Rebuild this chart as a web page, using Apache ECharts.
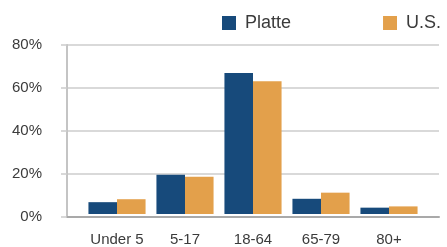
<!DOCTYPE html>
<html>
<head>
<meta charset="utf-8">
<script src="https://cdn.jsdelivr.net/npm/echarts@6/dist/echarts.min.js"></script>
<style>
  html, body { margin: 0; padding: 0; background: #fff; }
  #chart { width: 447px; height: 247px; }
</style>
</head>
<body>
<div id="chart"></div>
<script>
// age groups and share of population (%)
const ageGroups = ['Under 5', '5-17', '18-64', '65-79', '80+'];
const platte = [5.6, 18.6, 66.8, 7.2, 3.0];
const us = [7.0, 17.6, 62.8, 10.1, 3.6];
const yTicks = [0, 20, 40, 60, 80];

const FONT = '"Liberation Sans", Arial, sans-serif';
const textColor = '#3b3b3b';

const chart = echarts.init(document.getElementById('chart'));

chart.setOption({
  animation: false,
  textStyle: { fontFamily: FONT },
  legend: {
    data: ['Platte', 'U.S.'],
    left: 222,
    top: 14,
    padding: 0,
    width: 240,
    orient: 'horizontal',
    icon: 'rect',
    itemWidth: 14,
    itemHeight: 14,
    itemGap: 92,
    textStyle: { fontFamily: FONT, fontSize: 18, color: textColor, padding: [0, 0, 0, 4] }
  },
  grid: [
    // background grid: gridlines + y labels
    { left: 67, right: 8, top: 45, bottom: 30 },
    // bars sit in a slightly narrower area
    { left: 83, right: 24, top: 45, bottom: 30 }
  ],
  xAxis: [
    {
      gridIndex: 0,
      type: 'category',
      data: ['x'],
      axisLine: { show: true, lineStyle: { color: '#a9a9a9', width: 2 } },
      axisTick: { show: false },
      axisLabel: { show: false }
    },
    {
      gridIndex: 1,
      type: 'category',
      data: ageGroups,
      axisLine: { show: false },
      axisTick: { show: false },
      axisLabel: { interval: 0, fontFamily: FONT, fontSize: 15, color: textColor, margin: 18 }
    }
  ],
  yAxis: [
    {
      gridIndex: 0,
      type: 'value',
      min: 0,
      max: 80,
      interval: 20,
      axisLine: { show: true, lineStyle: { color: '#c4c4c4', width: 2 } },
      axisTick: { show: true, length: 6, lineStyle: { color: '#cccccc', width: 1.5 } },
      splitLine: { show: true, lineStyle: { color: '#cccccc', width: 1.5 } },
      axisLabel: {
        fontFamily: FONT, fontSize: 15, color: textColor, margin: 25,
        formatter: v => (yTicks.includes(v) ? v + '%' : '')
      }
    },
    {
      gridIndex: 1,
      type: 'value',
      min: 0,
      max: 80,
      show: false
    }
  ],
  series: [
    {
      name: 'Platte',
      type: 'bar',
      xAxisIndex: 1,
      yAxisIndex: 1,
      data: platte,
      barGap: '0%',
      barCategoryGap: '16%',
      itemStyle: { color: '#174a7b' }
    },
    {
      name: 'U.S.',
      type: 'bar',
      xAxisIndex: 1,
      yAxisIndex: 1,
      data: us,
      itemStyle: { color: '#e3a04b' }
    }
  ]
});
</script>
</body>
</html>
